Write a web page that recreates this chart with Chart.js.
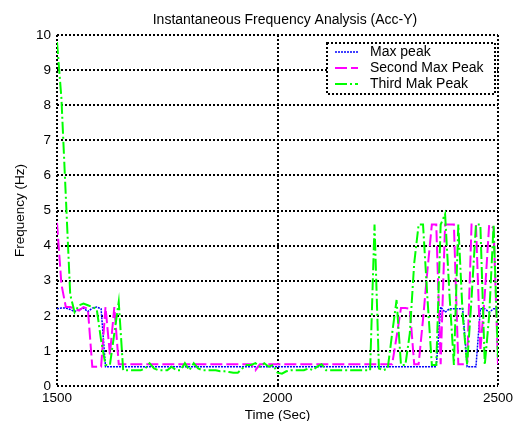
<!DOCTYPE html>
<html>
<head>
<meta charset="utf-8">
<script src="https://cdn.jsdelivr.net/npm/chart.js@4.4.0/dist/chart.umd.min.js"></script>
<style>
  html, body { margin: 0; padding: 0; background: #fff; }
  #wrap { width: 514px; height: 421px; }
</style>
</head>
<body>
<div id="wrap"><canvas id="chart" width="514" height="421"></canvas></div>
<script>
const titleText = "Instantaneous Frequency Analysis (Acc-Y)";
const seriesNames = ["Max peak", "Second Max Peak", "Third Mak Peak"];
const xTicks = [1500, 2000, 2500];

const times = [
  1500, 1510, 1520, 1530, 1540, 1550, 1560, 1570, 1580, 1590,
  1600, 1610, 1620, 1630, 1640, 1650, 1660, 1670, 1680, 1690,
  1700, 1710, 1720, 1730, 1740, 1750, 1760, 1770, 1780, 1790,
  1800, 1810, 1820, 1830, 1840, 1850, 1860, 1870, 1880, 1890,
  1900, 1910, 1920, 1930, 1940, 1950, 1960, 1970, 1980, 1990,
  2000, 2010, 2020, 2030, 2040, 2050, 2060, 2070, 2080, 2090,
  2100, 2110, 2120, 2130, 2140, 2150, 2160, 2170, 2180, 2190,
  2200, 2210, 2220, 2230, 2240, 2250, 2260, 2270, 2280, 2290,
  2300, 2310, 2320, 2330, 2340, 2350, 2360, 2370, 2380, 2390,
  2400, 2410, 2420, 2430, 2440, 2450, 2460, 2470, 2480, 2490,
  2500
];

const maxPeak = [
  2.20, 2.22, 2.22, 2.18, 2.12, 2.18, 2.22, 2.12, 2.22, 2.25,
  2.20, 0.55, 0.55, 0.55, 0.55, 0.55, 0.55, 0.55, 0.55, 0.55,
  0.55, 0.55, 0.55, 0.55, 0.55, 0.55, 0.55, 0.55, 0.55, 0.55,
  0.55, 0.55, 0.55, 0.55, 0.55, 0.55, 0.55, 0.55, 0.55, 0.55,
  0.55, 0.55, 0.55, 0.55, 0.55, 0.55, 0.55, 0.55, 0.55, 0.55,
  0.55, 0.55, 0.55, 0.55, 0.55, 0.55, 0.55, 0.55, 0.55, 0.55,
  0.55, 0.55, 0.55, 0.55, 0.55, 0.55, 0.55, 0.55, 0.55, 0.55,
  0.55, 0.55, 0.55, 0.55, 0.55, 0.55, 0.55, 0.55, 0.55, 0.55,
  0.55, 0.55, 0.55, 0.55, 0.55, 0.55, 0.55, 2.25, 2.10, 2.20,
  2.20, 2.20, 2.20, 0.55, 0.55, 0.55, 2.20, 2.20, 2.10, 2.20,
  2.20
];

const secondPeak = [
  4.65, 2.90, 2.25, 2.25, 2.20, 2.15, 2.25, 2.20, 0.55, 0.55,
  0.55, 2.25, 0.90, 2.25, 0.62, 0.62, 0.62, 0.62, 0.62, 0.62,
  0.62, 0.62, 0.62, 0.62, 0.62, 0.62, 0.62, 0.62, 0.62, 0.62,
  0.62, 0.62, 0.62, 0.62, 0.62, 0.62, 0.62, 0.62, 0.62, 0.62,
  0.62, 0.62, 0.62, 0.62, 0.62, 0.45, 0.62, 0.62, 0.62, 0.62,
  0.62, 0.62, 0.62, 0.62, 0.62, 0.62, 0.62, 0.62, 0.62, 0.62,
  0.62, 0.62, 0.62, 0.62, 0.62, 0.62, 0.62, 0.62, 0.62, 0.62,
  0.62, 0.62, 0.62, 0.62, 0.62, 0.62, 0.62, 1.40, 2.22, 2.22,
  2.20, 0.62, 0.62, 1.90, 3.30, 4.60, 4.60, 0.62, 4.60, 4.60,
  4.60, 0.62, 0.62, 0.62, 4.60, 4.60, 1.00, 2.60, 4.60, 4.50,
  0.62
];

const thirdPeak = [
  9.80, 8.20, 5.40, 2.60, 2.10, 2.30, 2.35, 2.30, 2.25, 2.20,
  1.30, 0.60, 0.60, 1.50, 2.40, 0.45, 0.45, 0.45, 0.45, 0.45,
  0.50, 0.65, 0.50, 0.45, 0.45, 0.45, 0.55, 0.45, 0.45, 0.65,
  0.45, 0.65, 0.50, 0.45, 0.45, 0.45, 0.45, 0.42, 0.42, 0.40,
  0.38, 0.38, 0.50, 0.60, 0.60, 0.65, 0.55, 0.65, 0.55, 0.60,
  0.38, 0.35, 0.42, 0.45, 0.45, 0.45, 0.45, 0.50, 0.45, 0.55,
  0.62, 0.45, 0.45, 0.45, 0.45, 0.45, 0.45, 0.45, 0.45, 0.45,
  0.45, 0.45, 4.60, 0.50, 0.45, 0.50, 1.50, 2.45, 0.60, 0.60,
  1.50, 3.50, 4.60, 4.60, 2.50, 0.60, 0.60, 4.60, 4.90, 2.60,
  0.60, 4.60, 2.00, 0.60, 2.50, 4.60, 4.60, 0.60, 2.00, 4.60,
  0.80
];

const FONT = '"Liberation Sans", Arial, sans-serif';

// title and boxed legend drawn inside the axes, MATLAB style
const insideLegend = {
  id: 'insideLegend',
  afterDraw(chart) {
    const ctx = chart.ctx;
    ctx.save();
    ctx.fillStyle = '#000';
    ctx.font = `14px ${FONT}`;
    ctx.textAlign = 'center';
    ctx.textBaseline = 'middle';
    ctx.fillText(titleText, 285, 20);

    const box = { x: 327, y: 43, w: 168, h: 51 };
    ctx.fillStyle = '#fff';
    ctx.fillRect(box.x, box.y, box.w, box.h);
    ctx.strokeStyle = '#000';
    ctx.lineWidth = 2;
    ctx.setLineDash([2, 2]);
    ctx.strokeRect(box.x, box.y, box.w, box.h);

    ctx.font = `14px ${FONT}`;
    ctx.textAlign = 'left';
    chart.data.datasets.forEach((ds, i) => {
      const y = 52 + i * 16;
      ctx.strokeStyle = ds.borderColor;
      ctx.lineWidth = ds.borderWidth;
      ctx.setLineDash(ds.borderDash);
      ctx.beginPath();
      ctx.moveTo(335, y);
      ctx.lineTo(358, y);
      ctx.stroke();
      ctx.fillStyle = '#000';
      ctx.fillText(ds.label, 370, y);
    });
    ctx.restore();
  }
};

new Chart(document.getElementById('chart'), {
  type: 'line',
  data: {
    labels: times,
    datasets: [
      { label: seriesNames[0], data: maxPeak, borderColor: '#0000ff', borderWidth: 1.5, borderDash: [2, 1], order: 3 },
      { label: seriesNames[1], data: secondPeak, borderColor: '#ff00ff', borderWidth: 2, borderDash: [12, 4], order: 2 },
      { label: seriesNames[2], data: thirdPeak, borderColor: '#00ff00', borderWidth: 2, borderDash: [12, 3, 2, 3], order: 1 },
    ],
  },
  options: {
    responsive: false,
    animation: false,
    layout: { padding: { left: 0, right: 16, top: 35, bottom: 0 } },
    elements: { point: { radius: 0 }, line: { tension: 0, fill: false } },
    plugins: { legend: { display: false }, title: { display: false }, tooltip: { enabled: false } },
    scales: {
      x: {
        type: 'linear',
        min: 1500,
        max: 2500,
        afterBuildTicks: (s) => { s.ticks = xTicks.map((v) => ({ value: v })); },
        afterFit: (s) => { s.height = 35; s.paddingLeft = 0; s.paddingRight = 0; },
        grid: { color: '#000', lineWidth: 2, drawTicks: false },
        border: { display: false, dash: [2, 2] },
        ticks: { color: '#000', font: { family: FONT, size: 13.5 }, padding: 4, maxRotation: 0, callback: (v) => String(v) },
        title: { display: true, text: 'Time (Sec)', color: '#000', font: { family: FONT, size: 13.5 }, padding: { top: 0, bottom: -2 } },
      },
      y: {
        min: 0,
        max: 10,
        afterFit: (s) => { s.width = 57; s.paddingTop = 0; s.paddingBottom = 0; },
        grid: { color: '#000', lineWidth: 2, drawTicks: false },
        border: { display: false, dash: [2, 2] },
        ticks: { stepSize: 1, color: '#000', font: { family: FONT, size: 13.5 }, padding: 6 },
        title: { display: true, text: 'Frequency (Hz)', color: '#000', font: { family: FONT, size: 13.5 }, padding: { top: 12, bottom: 0 } },
      },
    },
  },
  plugins: [insideLegend],
});
</script>
</body>
</html>
